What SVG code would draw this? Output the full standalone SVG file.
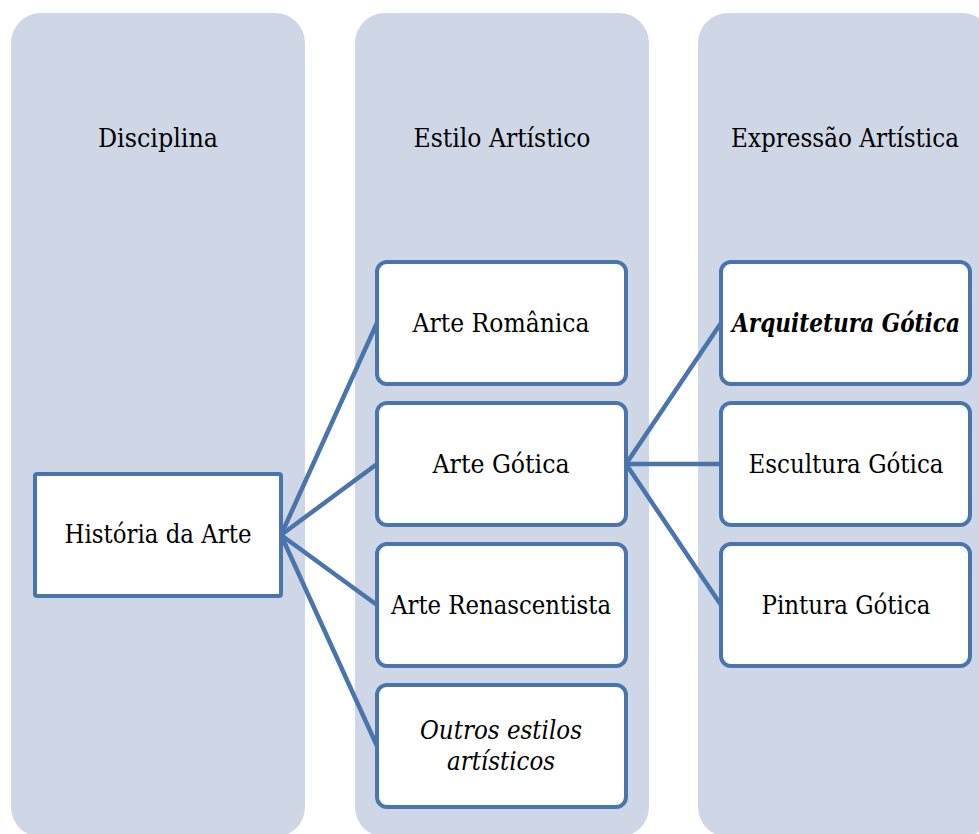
<svg xmlns="http://www.w3.org/2000/svg" width="979" height="834" viewBox="0 0 979 834">
  <style>
    .lane { fill: #cfd7e6; }
    .box { fill: #ffffff; stroke: #4a75ac; stroke-width: 4; }
    .link { stroke: #4a75ac; stroke-width: 4.5; fill: none; stroke-linecap: round; }
    text { font-family: 'DejaVu Serif', 'Liberation Serif', serif; font-size: 26px; fill: #000000; text-anchor: middle; }
    .it { font-style: italic; }
    .bi { font-style: italic; font-weight: bold; }
  </style>

  <!-- column lanes with headers -->
  <g id="lanes">
    <rect class="lane" x="11" y="13" width="294" height="824" rx="30"/>
    <rect class="lane" x="355" y="13" width="294" height="824" rx="30"/>
    <rect class="lane" x="698" y="13" width="294" height="824" rx="30"/>
    <text x="158" y="147" textLength="120" lengthAdjust="spacingAndGlyphs">Disciplina</text>
    <text x="502" y="147" textLength="177" lengthAdjust="spacingAndGlyphs">Estilo Artístico</text>
    <text x="845" y="147" textLength="228" lengthAdjust="spacingAndGlyphs">Expressão Artística</text>
  </g>

  <!-- connectors -->
  <g id="connectors">
    <line class="link" x1="281" y1="535" x2="377" y2="323"/>
    <line class="link" x1="281" y1="535" x2="377" y2="464"/>
    <line class="link" x1="281" y1="535" x2="377" y2="605"/>
    <line class="link" x1="281" y1="535" x2="377" y2="746"/>
    <line class="link" x1="626" y1="464" x2="721" y2="323"/>
    <line class="link" x1="626" y1="464" x2="721" y2="464"/>
    <line class="link" x1="626" y1="464" x2="721" y2="605"/>
  </g>

  <g id="historia-da-arte">
    <rect class="box" x="35" y="474" width="246" height="122" rx="2"/>
    <text x="158" y="543" textLength="187" lengthAdjust="spacingAndGlyphs">História da Arte</text>
  </g>

  <g id="arte-romanica">
    <rect class="box" x="377" y="262" width="249" height="122" rx="10"/>
    <text x="501" y="332" textLength="177" lengthAdjust="spacingAndGlyphs">Arte Românica</text>
  </g>
  <g id="arte-gotica">
    <rect class="box" x="377" y="403" width="249" height="122" rx="10"/>
    <text x="501" y="473" textLength="137" lengthAdjust="spacingAndGlyphs">Arte Gótica</text>
  </g>
  <g id="arte-renascentista">
    <rect class="box" x="377" y="544" width="249" height="122" rx="10"/>
    <text x="501" y="614" textLength="220" lengthAdjust="spacingAndGlyphs">Arte Renascentista</text>
  </g>
  <g id="outros-estilos">
    <rect class="box" x="377" y="685" width="249" height="122" rx="10"/>
    <text class="it" x="501" y="739" textLength="162" lengthAdjust="spacingAndGlyphs">Outros estilos</text>
    <text class="it" x="501" y="770" textLength="108" lengthAdjust="spacingAndGlyphs">artísticos</text>
  </g>

  <g id="arquitetura-gotica">
    <rect class="box" x="721" y="262" width="249" height="122" rx="10"/>
    <text class="bi" x="846" y="332" textLength="228" lengthAdjust="spacingAndGlyphs">Arquitetura Gótica</text>
  </g>
  <g id="escultura-gotica">
    <rect class="box" x="721" y="403" width="249" height="122" rx="10"/>
    <text x="846" y="473" textLength="195" lengthAdjust="spacingAndGlyphs">Escultura Gótica</text>
  </g>
  <g id="pintura-gotica">
    <rect class="box" x="721" y="544" width="249" height="122" rx="10"/>
    <text x="846" y="614" textLength="169" lengthAdjust="spacingAndGlyphs">Pintura Gótica</text>
  </g>
</svg>
